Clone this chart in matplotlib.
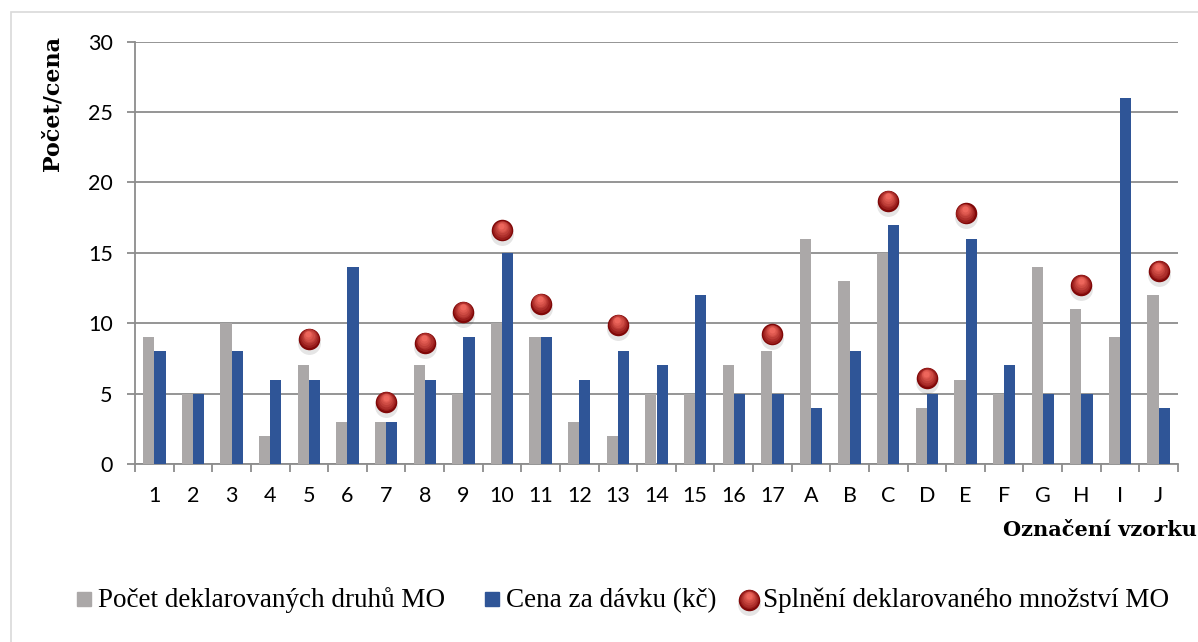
import numpy as np
import matplotlib
matplotlib.use('Agg')
import matplotlib.pyplot as plt
from matplotlib.patches import Rectangle
from matplotlib import transforms

# data
vzorky = [str(i) for i in range(1, 18)] + list('ABCDEFGHIJ')
druhy = [9, 5, 10, 2, 7, 3, 3, 7, 5, 10, 9, 3, 2, 5, 5, 7, 8,
         16, 13, 15, 4, 6, 5, 14, 11, 9, 12]
cena = [8, 5, 8, 6, 6, 14, 3, 6, 9, 15, 9, 6, 8, 7, 12, 5, 5,
        4, 8, 17, 5, 16, 7, 5, 5, 26, 4]
nan = np.nan
splneni = [nan, nan, nan, nan, 8.9, nan, 4.4, 8.6, 10.8, 16.6, 11.4, nan, 9.9,
           nan, nan, nan, 9.2, nan, nan, 18.7, 6.1, 17.8, nan, nan, 12.7, nan, 13.7]

labels = ['Počet deklarovaných druhů MO', 'Cena za dávku (kč)',
          'Splnění deklarovaného množství MO']

GRAY = '#ABA8A8'
BLUE = '#2F5597'
LINE = '#8C8C8C'
W, H = 1198, 642

def fx(px):
    return px / W

def fy(py):
    return 1 - py / H

def dot(x, y, t, size, col, alpha):
    plt.plot(x, y, 'o', ms=size, mfc=col, mec='none', alpha=alpha,
             transform=t, clip_on=False, zorder=5)

def ball(fig, x, y, trans, d=15.5):
    # fake 3D sphere: soft shadow + layers getting lighter and shifting up
    sh = transforms.offset_copy(trans, fig=fig, x=0, y=-4, units='dots')
    dot(x, y, sh, d + 1, '#000000', 0.10)
    n = 7
    dark = np.array([0.50, 0.03, 0.03])
    light = np.array([0.93, 0.40, 0.36])
    for k in range(n):
        f = k / (n - 1)
        t = transforms.offset_copy(trans, fig=fig, x=-0.5 * f, y=4.5 * f, units='dots')
        col = dark + (light - dark) * f ** 0.8
        dot(x, y, t, d * (1 - 0.72 * f), col, 1)


fig = plt.figure(figsize=(W / 100, H / 100), dpi=100)
ax = fig.add_axes([fx(135), fy(464), fx(1178) - fx(135), fy(41.7) - fy(464)])

x = np.arange(len(vzorky))
bw = 0.29
ax.bar(x - bw / 2, druhy, bw, color=GRAY, zorder=3)
ax.bar(x + bw / 2, cena, bw, color=BLUE, zorder=3)
ball(fig, x, splneni, ax.transData)

ax.set_xlim(-0.5, len(vzorky) - 0.5)
ax.set_ylim(0, 30)
ax.set_yticks(range(0, 31, 5))
ax.yaxis.grid(True, color=LINE, lw=1.3)
ax.set_axisbelow(True)
for s in ['top', 'right']:
    ax.spines[s].set_visible(False)
for s in ['left', 'bottom']:
    ax.spines[s].set_color(LINE)
    ax.spines[s].set_linewidth(1.3)

ax.set_xticks(x)
ax.set_xticklabels(vzorky)
ax.set_xticks(np.arange(-0.5, len(vzorky)), minor=True)
ax.tick_params(axis='x', which='major', length=0, pad=16, labelsize=15.5)
ax.tick_params(axis='x', which='minor', length=6, width=1.3, color=LINE)
ax.tick_params(axis='y', length=6, width=1.3, color=LINE, pad=10, labelsize=15.5)
for t in ax.get_xticklabels() + ax.get_yticklabels():
    t.set_fontfamily('Lato')

ax.set_ylabel('Počet/cena', family='DejaVu Serif', weight='bold', fontsize=16)
ax.yaxis.set_label_coords((52 - 135) / 1043, (464 - 103.5) / 422.3)
ax.yaxis.label.set(ha='center', va='center')
ax.set_xlabel('Označení vzorku', family='DejaVu Serif', weight='bold', fontsize=15)
ax.xaxis.set_label_coords((1197 - 135) / 1043, (464 - 530) / 422.3)
ax.xaxis.label.set(ha='right', va='center')

# legend, laid out like the original
base = fy(606.7)
fig.add_artist(Rectangle((fx(77), fy(606)), fx(14), 14 / H, color=GRAY,
                         transform=fig.transFigure))
fig.text(fx(98), base, labels[0], family='Liberation Serif', fontsize=19.5, va='baseline')
fig.add_artist(Rectangle((fx(485), fy(606)), fx(14), 14 / H, color=BLUE,
                         transform=fig.transFigure))
fig.text(fx(506), base, labels[1], family='Liberation Serif', fontsize=19.5, va='baseline')
ball(fig, [fx(749)], [fy(600)], fig.transFigure)
fig.text(fx(763), base, labels[2], family='Liberation Serif', fontsize=19.5, va='baseline')

# light frame around the chart
fig.add_artist(Rectangle((fx(11), -0.1), 1.2, fy(12.3) + 0.1, fill=False,
                         ec='#D9D9D9', lw=1.2, transform=fig.transFigure))

fig.savefig('out.png', dpi=100)
